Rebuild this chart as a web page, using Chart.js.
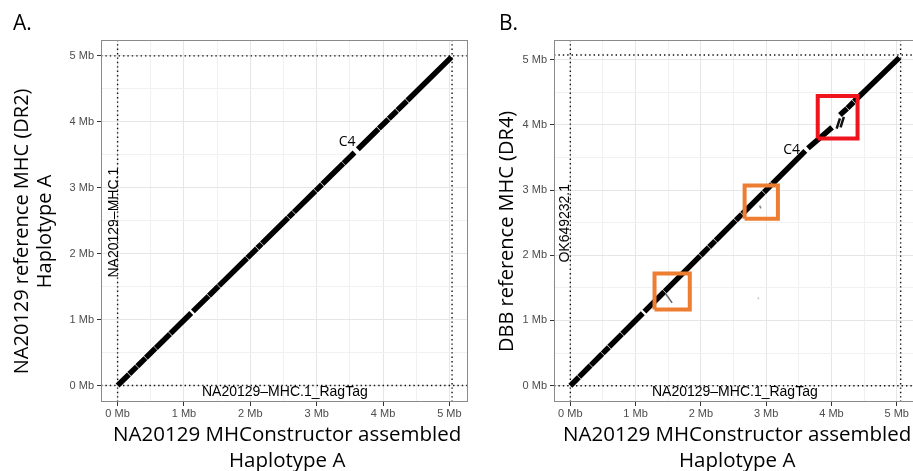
<!DOCTYPE html>
<html>
<head>
<meta charset="utf-8">
<title>MHC dot plots</title>
<script src="https://cdn.jsdelivr.net/npm/chart.js@4.4.1/dist/chart.umd.min.js"></script>
<style>
  html, body { margin: 0; padding: 0; background: #fff; width: 913px; height: 471px; overflow: hidden; }
  canvas { position: absolute; top: 0; }
  #chartA { left: 0; }
  #chartB { left: 460px; }
</style>
</head>
<body>
<canvas id="chartA" width="470" height="471"></canvas>
<canvas id="chartB" width="456" height="471"></canvas>
<script>
// ---- data (Mb) ----
// panel A: NA20129 assembled (query, x) vs NA20129 reference DR2 (target, y)
var aQueryLen = 5.04;
var aRefLen = 5.0;
var aQStart = [0.00, 0.176, 0.296, 0.426, 0.576, 0.796, 1.135, 1.376, 1.526, 1.956, 2.106, 2.176, 2.576, 2.656, 2.986, 3.086, 3.406, 3.62, 3.936, 4.086, 4.216, 4.366];
var aQEnd   = [0.17, 0.29, 0.42, 0.57, 0.79, 1.11, 1.37, 1.52, 1.95, 2.10, 2.17, 2.57, 2.65, 2.98, 3.08, 3.40, 3.57, 3.93, 4.08, 4.21, 4.36, 5.03];
var aTStart = [0.00, 0.174, 0.293, 0.422, 0.570, 0.788, 1.124, 1.362, 1.511, 1.936, 2.085, 2.154, 2.550, 2.629, 2.956, 3.055, 3.372, 3.584, 3.897, 4.045, 4.174, 4.322];
var aTEnd   = [0.168, 0.287, 0.416, 0.564, 0.782, 1.099, 1.356, 1.505, 1.931, 2.079, 2.148, 2.544, 2.624, 2.950, 3.049, 3.366, 3.534, 3.891, 4.039, 4.168, 4.316, 4.980];

// panel B: NA20129 assembled (x) vs DBB reference DR4 (y)
var bQueryLen = 5.06;
var bRefLen = 5.07;
var bQStart = [0.00, 0.136, 0.316, 0.496, 0.596, 0.796, 1.135, 1.446, 1.996, 2.126, 2.226, 2.536, 2.636, 2.966, 3.096, 3.64, 4.13, 4.246, 4.346];
var bQEnd   = [0.13, 0.31, 0.49, 0.59, 0.79, 1.11, 1.44, 1.99, 2.12, 2.22, 2.53, 2.63, 2.96, 3.09, 3.60, 4.01, 4.24, 4.34, 5.04];
var bTStart = [0.00, 0.136, 0.316, 0.496, 0.596, 0.796, 1.135, 1.446, 1.996, 2.126, 2.226, 2.536, 2.636, 2.966, 3.096, 3.64, 4.15, 4.256, 4.356];
var bTEnd   = [0.13, 0.31, 0.49, 0.59, 0.79, 1.11, 1.44, 1.99, 2.12, 2.22, 2.53, 2.63, 2.96, 3.09, 3.60, 3.96, 4.25, 4.35, 5.03];
// short off-diagonal hits in B
var bMinorQStart = [1.46, 2.90, 2.87];
var bMinorQEnd   = [1.56, 2.92, 2.89];
var bMinorTStart = [1.41, 2.76, 1.35];
var bMinorTEnd   = [1.27, 2.72, 1.33];
var bDupQStart = [4.08, 4.14];
var bDupQEnd   = [4.13, 4.19];
var bDupTStart = [3.94, 3.96];
var bDupTEnd   = [4.10, 4.12];

// highlighted regions in B
var boxX0 = [3.79, 2.67, 1.29];
var boxX1 = [4.40, 3.18, 1.83];
var boxY0 = [3.79, 2.56, 1.17];
var boxY1 = [4.44, 3.07, 1.72];

// axis ranges and ticks
var xRange = [-0.25, 5.28];
var aYRange = [-0.25, 5.24];
var bYRange = [-0.25, 5.30];
var tickStep = 0.5;

// sequence name / gene labels
var aLabelText = ['NA20129\u2013MHC.1', 'NA20129\u2013MHC.1_RagTag', 'C4'];
var aLabelX = [-0.047, 2.52, 3.46];
var aLabelY = [2.47, -0.096, 3.70];
var bLabelText = ['OK649232.1', 'NA20129\u2013MHC.1_RagTag', 'C4'];
var bLabelX = [-0.08, 2.52, 3.39];
var bLabelY = [2.49, -0.096, 3.61];

// ---- helpers ----
function segData(q0, q1, t0, t1) {
  var pts = [];
  q0.forEach(function (q, i) {
    pts.push({ x: q, y: t0[i] }, { x: q1[i], y: t1[i] }, { x: q1[i], y: null });
  });
  return pts;
}

function dotted(data) {
  return {
    data: data,
    borderColor: '#111',
    borderWidth: 1.4,
    borderDash: [1.4, 3],
    pointRadius: 0,
    spanGaps: false,
    order: 3
  };
}

function boundaryLines(qLen, rLen, yRange) {
  return [
    dotted([{ x: xRange[0], y: 0 }, { x: xRange[1], y: 0 }]),
    dotted([{ x: xRange[0], y: rLen }, { x: xRange[1], y: rLen }]),
    dotted([{ x: 0, y: yRange[0] }, { x: 0, y: yRange[1] }]),
    dotted([{ x: qLen, y: yRange[0] }, { x: qLen, y: yRange[1] }])
  ];
}

function isMajor(c) {
  return c.tick && Math.abs(c.tick.value - Math.round(c.tick.value)) < 1e-6;
}

var gridOpts = {
  color: function (c) { return isMajor(c) ? '#e6e6e6' : '#f1f1f1'; },
  lineWidth: 1,
  tickColor: function (c) { return isMajor(c) ? '#333' : 'rgba(0,0,0,0)'; },
  tickLength: 4,
  drawTicks: true
};

var tickOpts = {
  stepSize: tickStep,
  includeBounds: false,
  autoSkip: false,
  maxRotation: 0,
  color: '#4d4d4d',
  font: { family: 'Liberation Sans', size: 11 },
  callback: function (v) {
    return Math.abs(v - Math.round(v)) < 1e-6 ? Math.round(v) + ' Mb' : '';
  }
};

var titleFont = { family: 'Open Sans', size: 20, lineHeight: 1.15 };

var panelPlugin = {
  id: 'panel',
  afterDatasetsDraw: function (chart, args, opts) {
    var ctx = chart.ctx, a = chart.chartArea, x = chart.scales.x, y = chart.scales.y;
    ctx.save();
    ctx.strokeStyle = '#8a8a8a';
    ctx.lineWidth = 1;
    ctx.strokeRect(a.left + 0.5, a.top + 0.5, a.right - a.left - 1, a.bottom - a.top - 1);
    opts.text.forEach(function (t, i) {
      ctx.save();
      ctx.translate(x.getPixelForValue(opts.x[i]), y.getPixelForValue(opts.y[i]));
      if (i === 0) ctx.rotate(-Math.PI / 2);
      ctx.font = i === 2 ? '14px "Open Sans"' : '14px "Liberation Sans"';
      ctx.fillStyle = '#000';
      ctx.textAlign = 'center';
      ctx.textBaseline = 'middle';
      ctx.fillText(t, 0, 0);
      ctx.restore();
    });
    ctx.font = '21px "Open Sans"';
    ctx.fillStyle = '#000';
    ctx.textAlign = 'left';
    ctx.textBaseline = 'middle';
    ctx.fillText(opts.letter, opts.letterX, 24);
    ctx.restore();
  }
};

function makeChart(id, datasets, yRange, yTitle, yTitlePad, yWidth, padRight, labels, letter, letterX) {
  return new Chart(document.getElementById(id), {
    type: 'line',
    data: { datasets: datasets },
    options: {
      responsive: false,
      animation: false,
      devicePixelRatio: 1,
      layout: { padding: { top: 40, right: padRight, left: 0, bottom: 0 } },
      plugins: {
        legend: { display: false },
        tooltip: { enabled: false },
        panel: { text: labels.text, x: labels.x, y: labels.y, letter: letter, letterX: letterX }
      },
      scales: {
        x: {
          type: 'linear',
          min: xRange[0],
          max: xRange[1],
          afterFit: function (s) { s.height = 69; },
          grid: gridOpts,
          border: { display: false },
          ticks: Object.assign({}, tickOpts, { padding: 1 }),
          title: {
            display: true,
            // leading space nudges the centred title slightly right, as in the source figure
            text: [' NA20129 MHConstructor assembled', ' Haplotype A'],
            color: '#000',
            font: { family: 'Open Sans', size: 20.5, lineHeight: 1.27 },
            padding: { top: 0, bottom: -3 }
          }
        },
        y: {
          type: 'linear',
          min: yRange[0],
          max: yRange[1],
          afterFit: function (s) { s.width = yWidth; },
          grid: gridOpts,
          border: { display: false },
          ticks: Object.assign({}, tickOpts, { padding: 3 }),
          title: {
            display: true,
            text: yTitle,
            color: '#000',
            font: titleFont,
            padding: { top: yTitlePad, bottom: 0 }
          }
        }
      }
    },
    plugins: [panelPlugin]
  });
}

// ---- panel A ----
var aDatasets = [
  {
    data: segData(aQStart, aQEnd, aTStart, aTEnd),
    borderColor: '#000',
    borderWidth: 5.5,
    borderCapStyle: 'butt',
    pointRadius: 0,
    spanGaps: false,
    order: 2
  }
].concat(boundaryLines(aQueryLen, aRefLen, aYRange));

// trailing spaces move the rotated titles down a little, matching the source
makeChart('chartA', aDatasets, aYRange,
  ['NA20129 reference MHC (DR2)    ', 'Haplotype A    '], 11, 101, 2,
  { text: aLabelText, x: aLabelX, y: aLabelY }, 'A.', 13);

// ---- panel B ----
var boxColors = ['#f0141e', '#ed7d31', '#ed7d31'];
var boxSets = boxX0.map(function (x0, i) {
  return {
    data: [
      { x: x0, y: boxY0[i] }, { x: boxX1[i], y: boxY0[i] },
      { x: boxX1[i], y: boxY1[i] }, { x: x0, y: boxY1[i] }, { x: x0, y: boxY0[i] }
    ],
    borderColor: boxColors[i],
    borderWidth: 4,
    borderJoinStyle: 'miter',
    pointRadius: 0,
    order: 0
  };
});

var bDatasets = [
  {
    data: segData(bQStart, bQEnd, bTStart, bTEnd),
    borderColor: '#000',
    borderWidth: 5.5,
    borderCapStyle: 'butt',
    pointRadius: 0,
    spanGaps: false,
    order: 2
  },
  {
    data: segData(bDupQStart, bDupQEnd, bDupTStart, bDupTEnd),
    borderColor: '#111',
    borderWidth: 2.5,
    pointRadius: 0,
    spanGaps: false,
    order: 1
  },
  {
    data: segData(bMinorQStart, bMinorQEnd, bMinorTStart, bMinorTEnd),
    borderColor: '#777',
    segment: {
      borderColor: function (c) { return c.p0DataIndex >= 6 ? '#c8c8c8' : (c.p0DataIndex >= 3 ? '#888' : '#6a6a6a'); }
    },
    borderWidth: 1.6,
    pointRadius: 0,
    spanGaps: false,
    order: 1
  }
].concat(boundaryLines(bQueryLen, bRefLen, bYRange)).concat(boxSets);

makeChart('chartB', bDatasets, bYRange,
  'DBB reference MHC (DR4)    ', 35.5, 94, 1,
  { text: bLabelText, x: bLabelX, y: bLabelY }, 'B.', 39);
</script>
</body>
</html>
